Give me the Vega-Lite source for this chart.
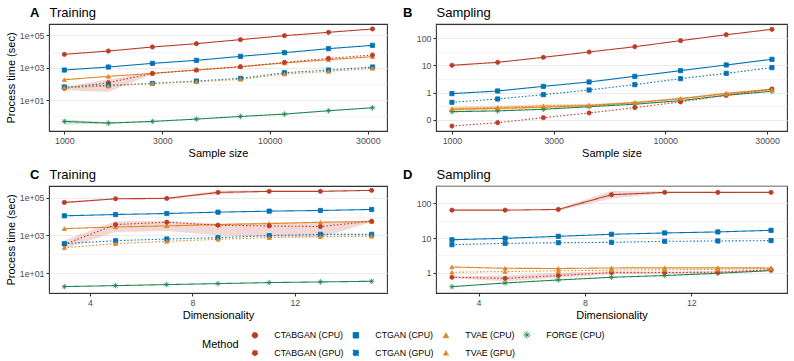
{
  "$schema": "https://vega.github.io/schema/vega-lite/v6.json",
  "padding": {"left": 4, "top": 5, "right": 4, "bottom": 40},
  "bounds": "flush",
  "spacing": {"row": 55, "column": 49},
  "columns": 2,
  "datasets": {
    "A": [
      {"m": "CTABGAN (CPU)", "x": 1000, "y": 6680}, {"m": "CTABGAN (CPU)", "x": 1638, "y": 10700}, {"m": "CTABGAN (CPU)", "x": 2683, "y": 19000}, {"m": "CTABGAN (CPU)", "x": 4394, "y": 30500}, {"m": "CTABGAN (CPU)", "x": 7197, "y": 54000}, {"m": "CTABGAN (CPU)", "x": 11788, "y": 95000}, {"m": "CTABGAN (CPU)", "x": 19307, "y": 153000}, {"m": "CTABGAN (CPU)", "x": 31623, "y": 247000},
      {"m": "CTGAN (CPU)", "x": 1000, "y": 718}, {"m": "CTGAN (CPU)", "x": 1638, "y": 1100}, {"m": "CTGAN (CPU)", "x": 2683, "y": 1850}, {"m": "CTGAN (CPU)", "x": 4394, "y": 2840}, {"m": "CTGAN (CPU)", "x": 7197, "y": 5020}, {"m": "CTGAN (CPU)", "x": 11788, "y": 8470}, {"m": "CTGAN (CPU)", "x": 19307, "y": 14960}, {"m": "CTGAN (CPU)", "x": 31623, "y": 24000},
      {"m": "TVAE (CPU)", "x": 1000, "y": 181}, {"m": "TVAE (CPU)", "x": 1638, "y": 291}, {"m": "TVAE (CPU)", "x": 2683, "y": 446}, {"m": "TVAE (CPU)", "x": 4394, "y": 718}, {"m": "TVAE (CPU)", "x": 7197, "y": 1150}, {"m": "TVAE (CPU)", "x": 11788, "y": 1950}, {"m": "TVAE (CPU)", "x": 19307, "y": 3130}, {"m": "TVAE (CPU)", "x": 31623, "y": 4790},
      {"m": "FORGE (CPU)", "x": 1000, "y": 0.48, "lo": 0.31, "hi": 0.64}, {"m": "FORGE (CPU)", "x": 1638, "y": 0.38, "lo": 0.35, "hi": 0.42}, {"m": "FORGE (CPU)", "x": 2683, "y": 0.48, "lo": 0.45, "hi": 0.51}, {"m": "FORGE (CPU)", "x": 4394, "y": 0.67}, {"m": "FORGE (CPU)", "x": 7197, "y": 0.975}, {"m": "FORGE (CPU)", "x": 11788, "y": 1.36}, {"m": "FORGE (CPU)", "x": 19307, "y": 2.19}, {"m": "FORGE (CPU)", "x": 31623, "y": 3.36},
      {"m": "CTABGAN (GPU)", "x": 1000, "y": 52.6, "lo": 40, "hi": 65}, {"m": "CTABGAN (GPU)", "x": 1638, "y": 118, "lo": 32, "hi": 190}, {"m": "CTABGAN (GPU)", "x": 2683, "y": 446, "lo": 400, "hi": 500}, {"m": "CTABGAN (GPU)", "x": 4394, "y": 718}, {"m": "CTABGAN (GPU)", "x": 7197, "y": 1150}, {"m": "CTABGAN (GPU)", "x": 11788, "y": 2140}, {"m": "CTABGAN (GPU)", "x": 19307, "y": 3770}, {"m": "CTABGAN (GPU)", "x": 31623, "y": 6070},
      {"m": "CTGAN (GPU)", "x": 1000, "y": 64}, {"m": "CTGAN (GPU)", "x": 1638, "y": 81}, {"m": "CTGAN (GPU)", "x": 2683, "y": 107}, {"m": "CTGAN (GPU)", "x": 4394, "y": 150}, {"m": "CTGAN (GPU)", "x": 7197, "y": 219}, {"m": "CTGAN (GPU)", "x": 11788, "y": 490}, {"m": "CTGAN (GPU)", "x": 19307, "y": 718}, {"m": "CTGAN (GPU)", "x": 31623, "y": 1100},
      {"m": "TVAE (GPU)", "x": 1000, "y": 58}, {"m": "TVAE (GPU)", "x": 1638, "y": 73}, {"m": "TVAE (GPU)", "x": 2683, "y": 107}, {"m": "TVAE (GPU)", "x": 4394, "y": 136}, {"m": "TVAE (GPU)", "x": 7197, "y": 190}, {"m": "TVAE (GPU)", "x": 11788, "y": 407}, {"m": "TVAE (GPU)", "x": 19307, "y": 593}, {"m": "TVAE (GPU)", "x": 31623, "y": 910}
    ],
    "B": [
      {"m": "CTABGAN (CPU)", "x": 1000, "y": 10.1}, {"m": "CTABGAN (CPU)", "x": 1638, "y": 13}, {"m": "CTABGAN (CPU)", "x": 2683, "y": 19.9}, {"m": "CTABGAN (CPU)", "x": 4394, "y": 31.3}, {"m": "CTABGAN (CPU)", "x": 7197, "y": 49}, {"m": "CTABGAN (CPU)", "x": 11788, "y": 82}, {"m": "CTABGAN (CPU)", "x": 19307, "y": 136}, {"m": "CTABGAN (CPU)", "x": 31623, "y": 215},
      {"m": "CTGAN (CPU)", "x": 1000, "y": 0.91}, {"m": "CTGAN (CPU)", "x": 1638, "y": 1.14}, {"m": "CTGAN (CPU)", "x": 2683, "y": 1.69}, {"m": "CTGAN (CPU)", "x": 4394, "y": 2.45}, {"m": "CTGAN (CPU)", "x": 7197, "y": 3.96}, {"m": "CTGAN (CPU)", "x": 11788, "y": 6.41}, {"m": "CTGAN (CPU)", "x": 19307, "y": 10.4}, {"m": "CTGAN (CPU)", "x": 31623, "y": 16.8},
      {"m": "TVAE (CPU)", "x": 1000, "y": 0.24, "lo": 0.2, "hi": 0.29}, {"m": "TVAE (CPU)", "x": 1638, "y": 0.26, "lo": 0.22, "hi": 0.31}, {"m": "TVAE (CPU)", "x": 2683, "y": 0.29, "lo": 0.25, "hi": 0.35}, {"m": "TVAE (CPU)", "x": 4394, "y": 0.33, "lo": 0.3, "hi": 0.37}, {"m": "TVAE (CPU)", "x": 7197, "y": 0.42, "lo": 0.39, "hi": 0.46}, {"m": "TVAE (CPU)", "x": 11788, "y": 0.59, "lo": 0.55, "hi": 0.64}, {"m": "TVAE (CPU)", "x": 19307, "y": 0.93, "lo": 0.86, "hi": 1.0}, {"m": "TVAE (CPU)", "x": 31623, "y": 1.31, "lo": 1.2, "hi": 1.45},
      {"m": "FORGE (CPU)", "x": 1000, "y": 0.196}, {"m": "FORGE (CPU)", "x": 1638, "y": 0.21}, {"m": "FORGE (CPU)", "x": 2683, "y": 0.24}, {"m": "FORGE (CPU)", "x": 4394, "y": 0.3}, {"m": "FORGE (CPU)", "x": 7197, "y": 0.37}, {"m": "FORGE (CPU)", "x": 11788, "y": 0.5}, {"m": "FORGE (CPU)", "x": 19307, "y": 0.79}, {"m": "FORGE (CPU)", "x": 31623, "y": 1.11},
      {"m": "CTABGAN (GPU)", "x": 1000, "y": 0.058}, {"m": "CTABGAN (GPU)", "x": 1638, "y": 0.077}, {"m": "CTABGAN (GPU)", "x": 2683, "y": 0.118}, {"m": "CTABGAN (GPU)", "x": 4394, "y": 0.176}, {"m": "CTABGAN (GPU)", "x": 7197, "y": 0.277}, {"m": "CTABGAN (GPU)", "x": 11788, "y": 0.45}, {"m": "CTABGAN (GPU)", "x": 19307, "y": 0.79}, {"m": "CTABGAN (GPU)", "x": 31623, "y": 1.35},
      {"m": "CTGAN (GPU)", "x": 1000, "y": 0.435}, {"m": "CTGAN (GPU)", "x": 1638, "y": 0.577}, {"m": "CTGAN (GPU)", "x": 2683, "y": 0.834}, {"m": "CTGAN (GPU)", "x": 4394, "y": 1.24}, {"m": "CTGAN (GPU)", "x": 7197, "y": 1.95}, {"m": "CTGAN (GPU)", "x": 11788, "y": 3.25}, {"m": "CTGAN (GPU)", "x": 19307, "y": 5.1}, {"m": "CTGAN (GPU)", "x": 31623, "y": 8.3},
      {"m": "TVAE (GPU)", "x": 1000, "y": 0.25, "lo": 0.21, "hi": 0.3}, {"m": "TVAE (GPU)", "x": 1638, "y": 0.28, "lo": 0.24, "hi": 0.33}, {"m": "TVAE (GPU)", "x": 2683, "y": 0.32, "lo": 0.27, "hi": 0.37}, {"m": "TVAE (GPU)", "x": 4394, "y": 0.34, "lo": 0.31, "hi": 0.38}, {"m": "TVAE (GPU)", "x": 7197, "y": 0.43, "lo": 0.4, "hi": 0.47}, {"m": "TVAE (GPU)", "x": 11788, "y": 0.6, "lo": 0.56, "hi": 0.65}, {"m": "TVAE (GPU)", "x": 19307, "y": 0.88, "lo": 0.82, "hi": 0.95}, {"m": "TVAE (GPU)", "x": 31623, "y": 1.28, "lo": 1.18, "hi": 1.4}
    ],
    "C": [
      {"m": "CTABGAN (CPU)", "x": 3, "y": 56000, "lo": 50000, "hi": 63000}, {"m": "CTABGAN (CPU)", "x": 5, "y": 88000, "lo": 82000, "hi": 95000}, {"m": "CTABGAN (CPU)", "x": 7, "y": 92000, "lo": 82000, "hi": 105000}, {"m": "CTABGAN (CPU)", "x": 9, "y": 192000, "lo": 155000, "hi": 235000}, {"m": "CTABGAN (CPU)", "x": 11, "y": 218000, "lo": 200000, "hi": 240000}, {"m": "CTABGAN (CPU)", "x": 13, "y": 218000, "lo": 205000, "hi": 232000}, {"m": "CTABGAN (CPU)", "x": 15, "y": 246000, "lo": 232000, "hi": 260000},
      {"m": "CTGAN (CPU)", "x": 3, "y": 11000}, {"m": "CTGAN (CPU)", "x": 5, "y": 12900}, {"m": "CTGAN (CPU)", "x": 7, "y": 14600}, {"m": "CTGAN (CPU)", "x": 9, "y": 17200}, {"m": "CTGAN (CPU)", "x": 11, "y": 19500}, {"m": "CTGAN (CPU)", "x": 13, "y": 21100}, {"m": "CTGAN (CPU)", "x": 15, "y": 23900},
      {"m": "TVAE (CPU)", "x": 3, "y": 2310}, {"m": "TVAE (CPU)", "x": 5, "y": 2840}, {"m": "TVAE (CPU)", "x": 7, "y": 3210}, {"m": "TVAE (CPU)", "x": 9, "y": 3780}, {"m": "TVAE (CPU)", "x": 11, "y": 4280}, {"m": "TVAE (CPU)", "x": 13, "y": 5040}, {"m": "TVAE (CPU)", "x": 15, "y": 5470},
      {"m": "FORGE (CPU)", "x": 3, "y": 1.95}, {"m": "FORGE (CPU)", "x": 5, "y": 2.2}, {"m": "FORGE (CPU)", "x": 7, "y": 2.49}, {"m": "FORGE (CPU)", "x": 9, "y": 2.81}, {"m": "FORGE (CPU)", "x": 11, "y": 3.18}, {"m": "FORGE (CPU)", "x": 13, "y": 3.45}, {"m": "FORGE (CPU)", "x": 15, "y": 3.74},
      {"m": "CTABGAN (GPU)", "x": 3, "y": 338, "lo": 199, "hi": 552}, {"m": "CTABGAN (GPU)", "x": 5, "y": 3780, "lo": 1540, "hi": 5700}, {"m": "CTABGAN (GPU)", "x": 7, "y": 5040, "lo": 1740, "hi": 5930}, {"m": "CTABGAN (GPU)", "x": 9, "y": 3480, "lo": 1020, "hi": 4280}, {"m": "CTABGAN (GPU)", "x": 11, "y": 3210, "lo": 880, "hi": 4900}, {"m": "CTABGAN (GPU)", "x": 13, "y": 2960, "lo": 770, "hi": 5000}, {"m": "CTABGAN (GPU)", "x": 15, "y": 5700, "lo": 5200, "hi": 6200},
      {"m": "CTGAN (GPU)", "x": 3, "y": 367}, {"m": "CTGAN (GPU)", "x": 5, "y": 530}, {"m": "CTGAN (GPU)", "x": 7, "y": 650}, {"m": "CTGAN (GPU)", "x": 9, "y": 766}, {"m": "CTGAN (GPU)", "x": 11, "y": 980}, {"m": "CTGAN (GPU)", "x": 13, "y": 1150}, {"m": "CTGAN (GPU)", "x": 15, "y": 1150},
      {"m": "TVAE (GPU)", "x": 3, "y": 224}, {"m": "TVAE (GPU)", "x": 5, "y": 367}, {"m": "TVAE (GPU)", "x": 7, "y": 489}, {"m": "TVAE (GPU)", "x": 9, "y": 625}, {"m": "TVAE (GPU)", "x": 11, "y": 766}, {"m": "TVAE (GPU)", "x": 13, "y": 866}, {"m": "TVAE (GPU)", "x": 15, "y": 903}
    ],
    "D": [
      {"m": "CTABGAN (CPU)", "x": 3, "y": 64}, {"m": "CTABGAN (CPU)", "x": 5, "y": 64}, {"m": "CTABGAN (CPU)", "x": 7, "y": 67, "lo": 62, "hi": 72}, {"m": "CTABGAN (CPU)", "x": 9, "y": 179, "lo": 140, "hi": 228}, {"m": "CTABGAN (CPU)", "x": 11, "y": 209, "lo": 196, "hi": 222}, {"m": "CTABGAN (CPU)", "x": 13, "y": 209}, {"m": "CTABGAN (CPU)", "x": 15, "y": 209},
      {"m": "CTGAN (CPU)", "x": 3, "y": 8.9}, {"m": "CTGAN (CPU)", "x": 5, "y": 9.8}, {"m": "CTGAN (CPU)", "x": 7, "y": 11.2}, {"m": "CTGAN (CPU)", "x": 9, "y": 12.8}, {"m": "CTGAN (CPU)", "x": 11, "y": 14}, {"m": "CTGAN (CPU)", "x": 13, "y": 15}, {"m": "CTGAN (CPU)", "x": 15, "y": 16.7},
      {"m": "TVAE (CPU)", "x": 3, "y": 1.45}, {"m": "TVAE (CPU)", "x": 5, "y": 1.33}, {"m": "TVAE (CPU)", "x": 7, "y": 1.31}, {"m": "TVAE (CPU)", "x": 9, "y": 1.36}, {"m": "TVAE (CPU)", "x": 11, "y": 1.37}, {"m": "TVAE (CPU)", "x": 13, "y": 1.37}, {"m": "TVAE (CPU)", "x": 15, "y": 1.36},
      {"m": "FORGE (CPU)", "x": 3, "y": 0.39}, {"m": "FORGE (CPU)", "x": 5, "y": 0.5}, {"m": "FORGE (CPU)", "x": 7, "y": 0.61}, {"m": "FORGE (CPU)", "x": 9, "y": 0.73}, {"m": "FORGE (CPU)", "x": 11, "y": 0.82}, {"m": "FORGE (CPU)", "x": 13, "y": 0.95}, {"m": "FORGE (CPU)", "x": 15, "y": 1.14},
      {"m": "CTABGAN (GPU)", "x": 3, "y": 0.73, "lo": 0.68, "hi": 0.78}, {"m": "CTABGAN (GPU)", "x": 5, "y": 0.68, "lo": 0.56, "hi": 0.82}, {"m": "CTABGAN (GPU)", "x": 7, "y": 0.82, "lo": 0.71, "hi": 0.98}, {"m": "CTABGAN (GPU)", "x": 9, "y": 1.0, "lo": 0.9, "hi": 1.1}, {"m": "CTABGAN (GPU)", "x": 11, "y": 1.0, "lo": 0.92, "hi": 1.08}, {"m": "CTABGAN (GPU)", "x": 13, "y": 1.02, "lo": 0.95, "hi": 1.1}, {"m": "CTABGAN (GPU)", "x": 15, "y": 1.2, "lo": 1.12, "hi": 1.28},
      {"m": "CTGAN (GPU)", "x": 3, "y": 6.4}, {"m": "CTGAN (GPU)", "x": 5, "y": 7.0}, {"m": "CTGAN (GPU)", "x": 7, "y": 7.3}, {"m": "CTGAN (GPU)", "x": 9, "y": 7.5}, {"m": "CTGAN (GPU)", "x": 11, "y": 8.0}, {"m": "CTGAN (GPU)", "x": 13, "y": 8.2}, {"m": "CTGAN (GPU)", "x": 15, "y": 8.4},
      {"m": "TVAE (GPU)", "x": 3, "y": 1.02}, {"m": "TVAE (GPU)", "x": 5, "y": 1.07}, {"m": "TVAE (GPU)", "x": 7, "y": 1.12}, {"m": "TVAE (GPU)", "x": 9, "y": 1.18}, {"m": "TVAE (GPU)", "x": 11, "y": 1.2}, {"m": "TVAE (GPU)", "x": 13, "y": 1.24}, {"m": "TVAE (GPU)", "x": 15, "y": 1.32}
    ]
  },
  "concat": [
    {
      "data": {"name": "A"},
      "width": 338, "height": 107,
      "title": {"text": "A", "dx": -19},
      "resolve": {"axis": {"x": "independent"}},
      "layer": [
        {"mark": {"type": "area", "opacity": 0.2, "clip": true},
          "encoding": {
            "x": {"field": "x", "type": "quantitative", "axis": {"orient": "top", "title": "Training", "labels": false, "ticks": false, "domain": false, "grid": false}},
            "y": {"field": "lo", "type": "quantitative", "title": "Process time (sec)",
              "scale": {"type": "log", "domain": [0.123, 500000], "nice": false, "zero": false},
              "axis": {"values": [1, 10, 100, 1000, 10000, 100000],
                "labelExpr": "indexof([10,1000,100000], datum.value) < 0 ? '' : '1e+0' + round(log(datum.value)/LN10)",
                "gridWidth": {"condition": {"test": "indexof([10,1000,100000], datum.value) < 0", "value": 0.55}, "value": 1.1},
                "tickOpacity": {"condition": {"test": "indexof([10,1000,100000], datum.value) < 0", "value": 0}, "value": 1}}},
            "y2": {"field": "hi"},
            "color": {"field": "m", "type": "nominal",
              "scale": {"domain": ["CTABGAN (CPU)", "CTGAN (CPU)", "TVAE (CPU)", "FORGE (CPU)", "CTABGAN (GPU)", "CTGAN (GPU)", "TVAE (GPU)"],
                "range": ["#BC3C29", "#0072B5", "#E18727", "#20854E", "#BC3C29", "#0072B5", "#E18727"]},
              "legend": {"orient": "none", "legendX": 153, "legendY": 306.5, "direction": "horizontal", "columns": 4, "gridAlign": "each",
                "title": "Method", "titleOrient": "left", "titleAnchor": "middle", "titleBaseline": "middle", "titlePadding": 6,
                "titleFontSize": 11, "titleFontWeight": "normal", "titleColor": "black",
                "labelFontSize": 8.8, "labelColor": "black", "labelOffset": 15, "symbolOffset": 5.5,
                "symbolSize": 30, "symbolStrokeWidth": 1, "symbolOpacity": 1, "rowPadding": 7, "columnPadding": 2}}
          }},
        {"mark": {"type": "line", "strokeWidth": 1.1, "clip": true},
          "encoding": {
            "x": {"field": "x", "type": "quantitative", "title": "Sample size",
              "scale": {"type": "log", "domain": [842, 37200], "nice": false, "zero": false},
              "axis": {"orient": "bottom", "values": [1000, 1732, 3000, 5477, 10000, 17321, 30000], "format": "d",
                "labelExpr": "indexof([1000,3000,10000,30000], datum.value) < 0 ? '' : datum.label",
                "gridWidth": {"condition": {"test": "indexof([1000,3000,10000,30000], datum.value) < 0", "value": 0.55}, "value": 1.1},
                "tickOpacity": {"condition": {"test": "indexof([1000,3000,10000,30000], datum.value) < 0", "value": 0}, "value": 1}}},
            "y": {"field": "y", "type": "quantitative"},
            "color": {"field": "m", "type": "nominal"},
            "strokeDash": {"field": "m", "type": "nominal",
              "scale": {"domain": ["CTABGAN (CPU)", "CTGAN (CPU)", "TVAE (CPU)", "FORGE (CPU)", "CTABGAN (GPU)", "CTGAN (GPU)", "TVAE (GPU)"],
                "range": [[1, 0], [1, 0], [1, 0], [1, 0], [1.5, 2], [1.5, 2], [1.5, 2]]}}
          }},
        {"mark": {"type": "point", "filled": true, "size": 18, "strokeWidth": 0.8, "opacity": 1, "clip": true},
          "encoding": {
            "x": {"field": "x", "type": "quantitative", "axis": null},
            "y": {"field": "y", "type": "quantitative"},
            "color": {"field": "m", "type": "nominal"},
            "stroke": {"field": "m", "type": "nominal", "legend": null,
              "scale": {"domain": ["CTABGAN (CPU)", "CTGAN (CPU)", "TVAE (CPU)", "FORGE (CPU)", "CTABGAN (GPU)", "CTGAN (GPU)", "TVAE (GPU)"],
                "range": ["#BC3C29", "#0072B5", "#E18727", "#20854E", "#BC3C29", "#0072B5", "#E18727"]}},
            "shape": {"field": "m", "type": "nominal",
              "scale": {"domain": ["CTABGAN (CPU)", "CTGAN (CPU)", "TVAE (CPU)", "FORGE (CPU)", "CTABGAN (GPU)", "CTGAN (GPU)", "TVAE (GPU)"],
                "range": ["circle", "square", "triangle-up", "M-1.3,0H1.3M0,-1.3V1.3M-0.9,-0.9L0.9,0.9M-0.9,0.9L0.9,-0.9", "circle", "square", "triangle-up"]}}
          }}
      ]
    },
    {
      "data": {"name": "B"},
      "width": 351, "height": 107,
      "title": {"text": "B", "dx": -33},
      "resolve": {"axis": {"x": "independent"}},
      "layer": [
        {"mark": {"type": "area", "opacity": 0.2, "clip": true},
          "encoding": {
            "x": {"field": "x", "type": "quantitative", "axis": {"orient": "top", "title": "Sampling", "labels": false, "ticks": false, "domain": false, "grid": false}},
            "y": {"field": "lo", "type": "quantitative", "title": null,
              "scale": {"type": "log", "domain": [0.038, 338], "nice": false, "zero": false},
              "axis": {"values": [0.1, 0.3162, 1, 3.162, 10, 31.62, 100, 316.2],
                "labelExpr": "indexof([0.1,1,10,100], datum.value) < 0 ? '' : format(datum.value, '.0f')",
                "gridWidth": {"condition": {"test": "indexof([0.1,1,10,100], datum.value) < 0", "value": 0.55}, "value": 1.1},
                "tickOpacity": {"condition": {"test": "indexof([0.1,1,10,100], datum.value) < 0", "value": 0}, "value": 1}}},
            "y2": {"field": "hi"},
            "color": {"field": "m", "type": "nominal"}
          }},
        {"mark": {"type": "line", "strokeWidth": 1.1, "clip": true},
          "encoding": {
            "x": {"field": "x", "type": "quantitative", "title": "Sample size",
              "scale": {"type": "log", "domain": [842, 37200], "nice": false, "zero": false},
              "axis": {"orient": "bottom", "values": [1000, 1732, 3000, 5477, 10000, 17321, 30000], "format": "d",
                "labelExpr": "indexof([1000,3000,10000,30000], datum.value) < 0 ? '' : datum.label",
                "gridWidth": {"condition": {"test": "indexof([1000,3000,10000,30000], datum.value) < 0", "value": 0.55}, "value": 1.1},
                "tickOpacity": {"condition": {"test": "indexof([1000,3000,10000,30000], datum.value) < 0", "value": 0}, "value": 1}}},
            "y": {"field": "y", "type": "quantitative"},
            "color": {"field": "m", "type": "nominal"},
            "strokeDash": {"field": "m", "type": "nominal"}
          }},
        {"mark": {"type": "point", "filled": true, "size": 18, "strokeWidth": 0.8, "opacity": 1, "clip": true},
          "encoding": {
            "x": {"field": "x", "type": "quantitative", "axis": null},
            "y": {"field": "y", "type": "quantitative"},
            "color": {"field": "m", "type": "nominal"},
            "stroke": {"field": "m", "type": "nominal", "legend": null},
            "shape": {"field": "m", "type": "nominal"}
          }}
      ]
    },
    {
      "data": {"name": "C"},
      "width": 338, "height": 107,
      "title": {"text": "C", "dx": -19},
      "resolve": {"axis": {"x": "independent"}},
      "layer": [
        {"mark": {"type": "area", "opacity": 0.2, "clip": true},
          "encoding": {
            "x": {"field": "x", "type": "quantitative", "axis": {"orient": "top", "title": "Training", "labels": false, "ticks": false, "domain": false, "grid": false}},
            "y": {"field": "lo", "type": "quantitative", "title": "Process time (sec)",
              "scale": {"type": "log", "domain": [0.893, 418800], "nice": false, "zero": false},
              "axis": {"values": [1, 10, 100, 1000, 10000, 100000],
                "labelExpr": "indexof([10,1000,100000], datum.value) < 0 ? '' : '1e+0' + round(log(datum.value)/LN10)",
                "gridWidth": {"condition": {"test": "indexof([10,1000,100000], datum.value) < 0", "value": 0.55}, "value": 1.1},
                "tickOpacity": {"condition": {"test": "indexof([10,1000,100000], datum.value) < 0", "value": 0}, "value": 1}}},
            "y2": {"field": "hi"},
            "color": {"field": "m", "type": "nominal"}
          }},
        {"mark": {"type": "line", "strokeWidth": 1.1, "clip": true},
          "encoding": {
            "x": {"field": "x", "type": "quantitative", "title": "Dimensionality",
              "scale": {"domain": [2.4, 15.6], "nice": false, "zero": false},
              "axis": {"orient": "bottom", "values": [4, 6, 8, 10, 12, 14],
                "labelExpr": "indexof([4,8,12], datum.value) < 0 ? '' : datum.label",
                "gridWidth": {"condition": {"test": "indexof([4,8,12], datum.value) < 0", "value": 0.55}, "value": 1.1},
                "tickOpacity": {"condition": {"test": "indexof([4,8,12], datum.value) < 0", "value": 0}, "value": 1}}},
            "y": {"field": "y", "type": "quantitative"},
            "color": {"field": "m", "type": "nominal"},
            "strokeDash": {"field": "m", "type": "nominal"}
          }},
        {"mark": {"type": "point", "filled": true, "size": 18, "strokeWidth": 0.8, "opacity": 1, "clip": true},
          "encoding": {
            "x": {"field": "x", "type": "quantitative", "axis": null},
            "y": {"field": "y", "type": "quantitative"},
            "color": {"field": "m", "type": "nominal"},
            "stroke": {"field": "m", "type": "nominal", "legend": null},
            "shape": {"field": "m", "type": "nominal"}
          }}
      ]
    },
    {
      "data": {"name": "D"},
      "width": 351, "height": 107,
      "title": {"text": "D", "dx": -33},
      "resolve": {"axis": {"x": "independent"}},
      "layer": [
        {"mark": {"type": "area", "opacity": 0.2, "clip": true},
          "encoding": {
            "x": {"field": "x", "type": "quantitative", "axis": {"orient": "top", "title": "Sampling", "labels": false, "ticks": false, "domain": false, "grid": false}},
            "y": {"field": "lo", "type": "quantitative", "title": null,
              "scale": {"type": "log", "domain": [0.256, 320], "nice": false, "zero": false},
              "axis": {"values": [0.3162, 1, 3.162, 10, 31.62, 100, 316.2],
                "labelExpr": "indexof([1,10,100], datum.value) < 0 ? '' : format(datum.value, '.0f')",
                "gridWidth": {"condition": {"test": "indexof([1,10,100], datum.value) < 0", "value": 0.55}, "value": 1.1},
                "tickOpacity": {"condition": {"test": "indexof([1,10,100], datum.value) < 0", "value": 0}, "value": 1}}},
            "y2": {"field": "hi"},
            "color": {"field": "m", "type": "nominal"}
          }},
        {"mark": {"type": "line", "strokeWidth": 1.1, "clip": true},
          "encoding": {
            "x": {"field": "x", "type": "quantitative", "title": "Dimensionality",
              "scale": {"domain": [2.4, 15.6], "nice": false, "zero": false},
              "axis": {"orient": "bottom", "values": [4, 6, 8, 10, 12, 14],
                "labelExpr": "indexof([4,8,12], datum.value) < 0 ? '' : datum.label",
                "gridWidth": {"condition": {"test": "indexof([4,8,12], datum.value) < 0", "value": 0.55}, "value": 1.1},
                "tickOpacity": {"condition": {"test": "indexof([4,8,12], datum.value) < 0", "value": 0}, "value": 1}}},
            "y": {"field": "y", "type": "quantitative"},
            "color": {"field": "m", "type": "nominal"},
            "strokeDash": {"field": "m", "type": "nominal"}
          }},
        {"mark": {"type": "point", "filled": true, "size": 18, "strokeWidth": 0.8, "opacity": 1, "clip": true},
          "encoding": {
            "x": {"field": "x", "type": "quantitative", "axis": null},
            "y": {"field": "y", "type": "quantitative"},
            "color": {"field": "m", "type": "nominal"},
            "stroke": {"field": "m", "type": "nominal", "legend": null},
            "shape": {"field": "m", "type": "nominal"}
          }}
      ]
    }
  ],
  "config": {
    "font": "Liberation Sans",
    "view": {"stroke": "#333333", "strokeWidth": 1.1},
    "axis": {"domain": false, "gridColor": "#EBEBEB", "tickColor": "#333333", "tickSize": 3, "tickWidth": 1.1,
      "labelColor": "#4D4D4D", "labelFontSize": 8.8, "labelPadding": 2, "labelFont": "Liberation Sans",
      "titleFontSize": 11, "titleFontWeight": "normal", "titleColor": "black", "titlePadding": 3, "titleFont": "Liberation Sans"},
    "axisTop": {"titleFontSize": 13, "titleAnchor": "start", "titleAlign": "left", "titlePadding": 5},
    "title": {"anchor": "start", "frame": "group", "fontSize": 13, "fontWeight": "bold", "color": "black", "font": "Liberation Sans", "offset": -14},
    "legend": {"labelFont": "Liberation Sans", "titleFont": "Liberation Sans"}
  }
}
